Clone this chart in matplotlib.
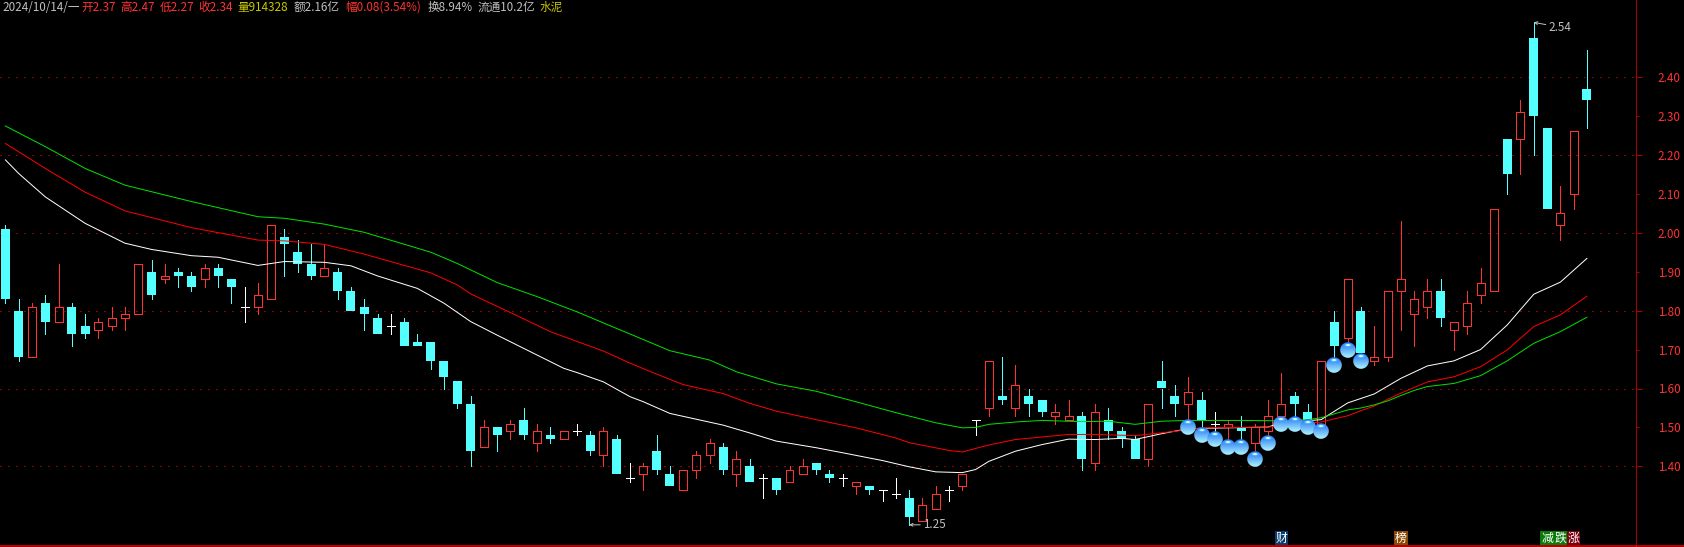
import numpy as np
import matplotlib
matplotlib.use('Agg')
import matplotlib.pyplot as plt
from matplotlib.lines import Line2D
from matplotlib.offsetbox import OffsetImage, AnnotationBbox

plt.rcParams['font.family'] = ['Noto Sans CJK SC', 'DejaVu Sans']

# OHLC, one entry per trading day
opens = [2.01,1.80,1.68,1.82,1.77,1.81,1.76,1.75,1.76,1.78,1.79,1.90,1.88,1.90,1.89,1.88,1.91,1.88,1.81,1.81,
         1.83,1.99,1.95,1.92,1.89,1.90,1.85,1.81,1.78,1.76,1.77,1.72,1.72,1.67,1.62,1.56,1.45,1.50,1.49,1.52,
         1.46,1.48,1.47,1.49,1.48,1.43,1.47,1.37,1.38,1.44,1.38,1.34,1.39,1.43,1.45,1.38,1.40,1.37,1.37,1.36,
         1.38,1.41,1.38,1.37,1.35,1.35,1.34,1.33,1.32,1.26,1.29,1.34,1.35,1.52,1.55,1.58,1.55,1.58,1.57,1.53,
         1.52,1.53,1.41,1.52,1.49,1.47,1.42,1.62,1.58,1.56,1.57,1.51,1.50,1.50,1.46,1.49,1.53,1.58,1.54,1.51,
         1.77,1.73,1.80,1.67,1.68,1.85,1.79,1.81,1.85,1.75,1.76,1.84,1.85,2.24,2.24,2.50,2.27,2.02,2.10,2.37]
highs = [2.02,1.83,1.82,1.84,1.92,1.82,1.79,1.78,1.81,1.81,1.92,1.93,1.92,1.91,1.90,1.92,1.92,1.88,1.86,1.87,
         2.02,2.01,1.98,1.97,1.97,1.91,1.86,1.83,1.79,1.79,1.78,1.74,1.72,1.67,1.62,1.58,1.52,1.50,1.52,1.55,
         1.51,1.50,1.49,1.51,1.49,1.50,1.48,1.41,1.41,1.48,1.40,1.39,1.44,1.47,1.46,1.44,1.42,1.38,1.37,1.40,
         1.42,1.41,1.39,1.38,1.36,1.35,1.34,1.37,1.34,1.32,1.35,1.35,1.38,1.52,1.67,1.68,1.66,1.60,1.57,1.56,
         1.57,1.54,1.56,1.55,1.50,1.48,1.56,1.67,1.61,1.63,1.59,1.54,1.52,1.53,1.51,1.57,1.64,1.59,1.56,1.67,
         1.80,1.88,1.81,1.76,1.85,2.03,1.85,1.88,1.88,1.77,1.85,1.91,2.06,2.24,2.34,2.54,2.27,2.12,2.26,2.47]
lows = [1.82,1.67,1.68,1.74,1.77,1.71,1.73,1.73,1.75,1.75,1.79,1.83,1.87,1.86,1.85,1.86,1.86,1.82,1.77,1.79,
        1.83,1.89,1.90,1.88,1.89,1.83,1.80,1.75,1.74,1.74,1.71,1.71,1.65,1.60,1.55,1.40,1.45,1.44,1.47,1.47,
        1.44,1.46,1.47,1.48,1.43,1.40,1.38,1.36,1.34,1.38,1.35,1.34,1.37,1.41,1.38,1.35,1.36,1.32,1.33,1.36,
        1.38,1.38,1.36,1.35,1.33,1.33,1.31,1.32,1.25,1.26,1.29,1.31,1.34,1.48,1.53,1.56,1.53,1.53,1.53,1.51,
        1.52,1.39,1.39,1.47,1.45,1.42,1.40,1.55,1.53,1.52,1.50,1.49,1.47,1.47,1.44,1.48,1.53,1.53,1.52,1.51,
        1.68,1.72,1.69,1.66,1.67,1.75,1.71,1.78,1.76,1.70,1.74,1.82,1.85,2.10,2.15,2.20,2.06,1.98,2.06,2.27]
closes = [1.83,1.68,1.81,1.77,1.81,1.74,1.74,1.77,1.78,1.79,1.92,1.84,1.89,1.89,1.86,1.91,1.89,1.86,1.81,1.84,
          2.02,1.97,1.92,1.89,1.91,1.85,1.80,1.79,1.74,1.76,1.71,1.71,1.67,1.63,1.56,1.44,1.50,1.48,1.51,1.48,
          1.49,1.47,1.49,1.49,1.44,1.49,1.38,1.37,1.40,1.39,1.35,1.39,1.43,1.46,1.39,1.42,1.36,1.37,1.34,1.39,
          1.40,1.39,1.37,1.37,1.36,1.34,1.34,1.33,1.27,1.30,1.33,1.34,1.38,1.52,1.67,1.57,1.61,1.56,1.54,1.54,
          1.53,1.42,1.54,1.49,1.47,1.42,1.56,1.60,1.56,1.59,1.52,1.51,1.51,1.49,1.50,1.53,1.56,1.56,1.52,1.67,
          1.71,1.88,1.69,1.68,1.85,1.88,1.83,1.85,1.78,1.77,1.82,1.87,2.06,2.15,2.31,2.30,2.06,2.05,2.26,2.34]

# moving averages, read at the days where they were legible
white_days = [0,1,3,6,9,11,14,16,19,21,24,26,28,31,33,35,37,40,42,43,45,47,48,50,52,54,56,58,61,63,66,68,70,72,73,74,
              76,78,80,82,84,85,87,89,95,96,99,101,103,105,107,109,111,113,115,117,119]
white_ma = [2.187,2.152,2.092,2.024,1.973,1.957,1.941,1.937,1.916,1.926,1.924,1.915,1.889,1.857,1.819,1.772,1.737,1.686,
            1.652,1.641,1.617,1.579,1.566,1.536,1.521,1.506,1.486,1.465,1.448,1.435,1.415,1.399,1.386,1.384,1.392,1.413,
            1.439,1.456,1.470,1.469,1.472,1.469,1.484,1.497,1.501,1.512,1.520,1.563,1.586,1.626,1.658,1.671,1.700,1.763,
            1.842,1.873,1.934]
red_days = [0,3,6,9,14,19,21,24,27,32,34,35,38,41,45,47,49,51,54,56,58,61,64,67,68,71,72,74,76,80,82,85,88,90,95,99,100,
            101,102,103,104,105,107,109,111,113,115,117,119]
red_ma = [2.229,2.165,2.104,2.056,2.013,1.981,1.979,1.970,1.945,1.897,1.866,1.843,1.795,1.746,1.696,1.665,1.637,1.610,
          1.587,1.562,1.542,1.520,1.499,1.473,1.461,1.441,1.437,1.455,1.469,1.482,1.482,1.479,1.490,1.499,1.501,1.514,
          1.522,1.530,1.543,1.555,1.572,1.588,1.617,1.630,1.656,1.699,1.759,1.789,1.837]
green_days = [0,3,6,9,14,19,21,24,27,32,34,37,40,43,46,47,50,53,55,58,61,64,67,70,72,73,74,76,78,81,83,85,87,89,93,96,98,
              99,100,101,102,103,104,105,106,107,109,111,113,115,117,119]
green_ma = [2.274,2.221,2.165,2.122,2.080,2.041,2.037,2.022,2.001,1.950,1.921,1.872,1.836,1.797,1.754,1.740,1.697,1.673,
            1.643,1.612,1.593,1.566,1.538,1.512,1.499,1.500,1.508,1.514,1.518,1.515,1.516,1.508,1.516,1.518,1.518,1.517,
            1.520,1.525,1.535,1.545,1.550,1.558,1.568,1.582,1.595,1.605,1.613,1.633,1.671,1.716,1.746,1.783]

# blue buy marks
ball_days = [89,90,91,92,93,94,95,96,97,98,99,100,101,102]
ball_prices = [1.50,1.48,1.47,1.45,1.45,1.42,1.46,1.51,1.51,1.50,1.49,1.66,1.70,1.67]

# small tags on the bottom edge
tag_days = [96,105,116,117,118]
tag_text = ['财','榜','减','跌','涨']
tag_colors = ['#0a3c6e','#8a4a06','#0a7a0a','#0a7a0a','#7a0010']

major_ticks = [1.4,1.6,1.8,2.0,2.2,2.4]
minor_ticks = [1.5,1.7,1.9,2.1,2.3]

header = [(2,'2024/10/14/一','#c0c0c0'),(81,'开2.37','#ff3232'),(120,'高2.47','#ff3232'),(160,'低2.27','#ff3232'),
          (198,'收2.34','#ff3232'),(237.5,'量914328','#c8c800'),(294,'额2.16亿','#c0c0c0'),
          (345,'幅0.08(3.54%)','#ff3232'),(427.5,'换8.94%','#c0c0c0'),(477.5,'流通10.2亿','#c0c0c0'),(540,'水泥','#c8c800')]

W, H = 1684, 547
AXIS_X = 1635.7
UP = '#ff3232'
DOWN = '#54ffff'
PX = 0.72  # one pixel in points at dpi 100

fig = plt.figure(figsize=(W/100, H/100), dpi=100, facecolor='black')
ax = fig.add_axes([0, 1.5/H, AXIS_X/W, 1 - 1.5/H], facecolor='black')
ax.set_xlim(-5.4/13.29, (AXIS_X - 5.4)/13.29)
ax.set_ylim(2 + (232.7 - 545.5)/389.5, 2 + 232.7/389.5)

for v in major_ticks:
    ax.axhline(v, color='#8c0000', lw=PX, ls=(0, (1.4, 6.8)), antialiased=False, zorder=1)

opens = np.array(opens); highs = np.array(highs); lows = np.array(lows); closes = np.array(closes)
days = np.arange(len(opens))
for d, o, h, l, c in zip(days, opens, highs, lows, closes):
    top, bot = max(o, c), min(o, c)
    if c > o:
        col = UP
    elif c < o:
        col = DOWN
    else:
        col = 'white'
    if h > top:
        ax.plot([d, d], [top, h], color=col, lw=PX, antialiased=False, zorder=2)
    if l < bot:
        ax.plot([d, d], [l, bot], color=col, lw=PX, antialiased=False, zorder=2)
    if c > o:
        ax.bar(d, top - bot, width=0.6, bottom=bot, facecolor='none', edgecolor=col, lw=PX,
               antialiased=False, zorder=2)
    elif c < o:
        ax.bar(d, top - bot, width=0.68, bottom=bot, color=col, lw=0, antialiased=False, zorder=2)
    else:
        ax.plot([d - 0.3, d + 0.3], [c, c], color=col, lw=PX, antialiased=False, zorder=2)

ax.plot(white_days, white_ma, color='white', lw=PX, zorder=3)
ax.plot(red_days, red_ma, color='#ff0000', lw=PX, zorder=3)
ax.plot(green_days, green_ma, color='#00e000', lw=PX, zorder=3)

# sphere bitmap for the buy marks
n = 16
yy, xx = np.mgrid[0:n, 0:n]
cx = cy = (n - 1)/2
rr = np.hypot(xx - cx, yy - cy)/7.8
t = yy/(n - 1)
sphere = np.zeros((n, n, 4))
sphere[..., 0] = 0.12 + 0.55*t
sphere[..., 1] = 0.45 + 0.50*t
sphere[..., 2] = 0.95 + 0.05*t
glare = np.exp(-((xx - cx)**2/6 + (yy - 2.5)**2/1.2))
sphere[..., :3] = np.clip(sphere[..., :3] + glare[..., None]*0.7, 0, 1)
sphere[..., 3] = np.clip((1 - rr)*7.8 + 0.5, 0, 1)
for d, p in zip(ball_days, ball_prices):
    ax.add_artist(AnnotationBbox(OffsetImage(sphere, zoom=0.72), (d, p), frameon=False, pad=0, zorder=4))

# high / low notes
arrow = dict(arrowstyle='->', color='#c0c0c0', lw=PX, mutation_scale=5, shrinkA=0, shrinkB=0)
ax.annotate('2.54', xy=(115, 2.54), xytext=(10.6, -3.5), textcoords='offset points', color='#c0c0c0', fontsize=8.4,
            va='center', arrowprops=arrow)
ax.annotate('1.25', xy=(68, 1.25), xytext=(10, 0), textcoords='offset points', color='#c0c0c0', fontsize=8.4,
            va='center', arrowprops=arrow)

for x, s, col in header:
    fig.text(x/W, 1 - 7.5/H, s, color=col, fontsize=8.4, va='center', ha='left')

trans = ax.get_xaxis_transform()
for d, s, col in zip(tag_days, tag_text, tag_colors):
    ax.text(d, 7.5/H, s, color='white', fontsize=8.6, ha='center', va='center', transform=trans, zorder=5,
            bbox=dict(boxstyle='square,pad=0.06', facecolor=col, edgecolor='none'))

ax.yaxis.tick_right()
ax.set_yticks(major_ticks)
ax.set_yticks(minor_ticks, minor=True)
ax.set_yticklabels([f'{v:.2f}' for v in major_ticks], color='#ff3232', fontsize=8.4)
ax.set_yticklabels([f'{v:.2f}' for v in minor_ticks], color='#ff3232', fontsize=8.4, minor=True)
ax.tick_params(axis='y', which='major', length=4.1, width=PX, color='#b00000', pad=11.7)
ax.tick_params(axis='y', which='minor', length=2, width=PX, color='#b00000', pad=13.9)
ax.set_xticks([])
for name in ['top', 'left']:
    ax.spines[name].set_visible(False)
ax.spines['right'].set_color('#a80000')
ax.spines['right'].set_linewidth(PX)
ax.spines['bottom'].set_color('#e00000')
ax.spines['bottom'].set_linewidth(PX*1.6)
fig.add_artist(Line2D([AXIS_X/W, 1], [1.5/H, 1.5/H], color='#e00000', lw=PX*1.6))

fig.savefig('out.png', dpi=100, facecolor='black')
